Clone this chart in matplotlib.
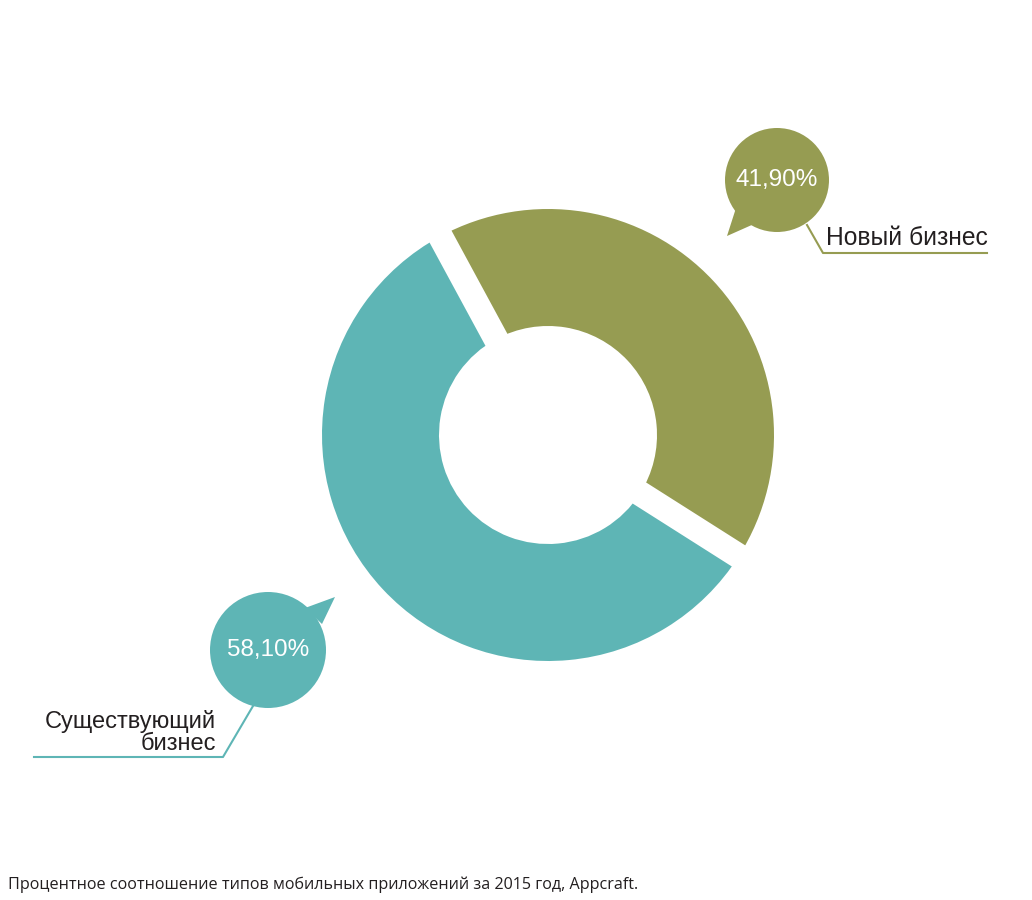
import numpy as np
import matplotlib
matplotlib.use("Agg")
import matplotlib.pyplot as plt
from matplotlib.patches import Circle, Polygon

# data
labels = ["Новый бизнес", "Существующий бизнес"]
shares = [41.90, 58.10]
share_text = ["41,90%", "58,10%"]
colors = ["#969c52", "#5eb5b5"]
footer = "Процентное соотношение типов мобильных приложений за 2015 год, Appcraft."

W, H = 1032, 900
TXT = "#231f20"
FONT = ["Liberation Sans", "DejaVu Sans"]

fig = plt.figure(figsize=(W / 100, H / 100), dpi=100)
ax = fig.add_axes([0, 0, 1, 1])

cx, cy = 548, H - 435
r_out, r_in = 226, 109
start = -32.4

ax.pie(shares, colors=colors, startangle=start, counterclock=True,
       center=(cx, cy), radius=r_out,
       wedgeprops=dict(width=r_out - r_in, linewidth=0))

# white cuts between segments
bounds = start + np.cumsum([0] + shares) / 100 * 360
for a in bounds[:-1]:
    t = np.deg2rad(a)
    ax.plot([cx, cx + 1.2 * r_out * np.cos(t)], [cy, cy + 1.2 * r_out * np.sin(t)],
            color="white", linewidth=18, solid_capstyle="butt", zorder=3)

ax.set_xlim(0, W)
ax.set_ylim(0, H)
ax.set_aspect("equal")
ax.axis("off")


def bubble(x, y, r, tail, color, text):
    ax.add_patch(Circle((x, H - y), r, color=color, zorder=4, lw=0))
    ax.add_patch(Polygon([(px, H - py) for px, py in tail], closed=True,
                         color=color, zorder=4, lw=0))
    ax.text(x, H - y, text, color="white", fontsize=17.5, family=FONT,
            ha="center", va="center", zorder=5)


# olive bubble + label
bubble(777, 180, 52, [(736, 208), (727, 236), (754, 224)], colors[0], share_text[0])
ax.plot([807, 823, 987], [H - 225, H - 253, H - 253], color=colors[0], lw=1.5, zorder=3)
ax.text(826, H - 245, labels[0], color=TXT, fontsize=17.7, family=FONT,
        ha="left", va="baseline")

# teal bubble + label
bubble(268, 650, 58, [(305, 608), (335, 597), (322, 624)], colors[1], share_text[1])
ax.plot([253, 223, 34], [H - 706, H - 757, H - 757], color=colors[1], lw=1.5, zorder=3)
w1, w2 = labels[1].split(" ")
ax.text(216, H - 728, w1, color=TXT, fontsize=17, family=FONT, ha="right", va="baseline")
ax.text(216, H - 750, w2, color=TXT, fontsize=17, family=FONT, ha="right", va="baseline")

ax.text(8, H - 889, footer, color=TXT, fontsize=11.6, family=["Open Sans", "DejaVu Sans"],
        ha="left", va="baseline")

fig.savefig("out.png", dpi=100)
plt.close()
